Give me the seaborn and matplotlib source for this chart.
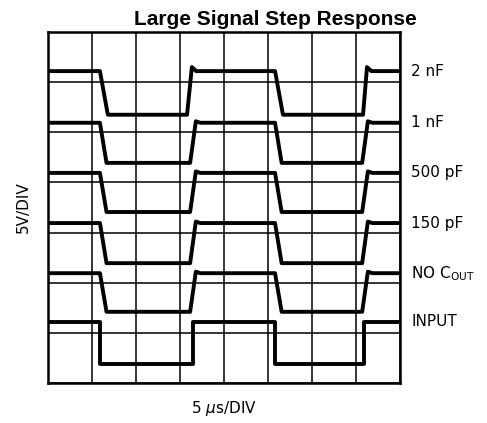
# =======================================================
# Large Signal Step Response (scope capture redraw)
# =======================================================

import numpy as np
import pandas as pd
import matplotlib
matplotlib.use("Agg")
import matplotlib.pyplot as plt
import seaborn as sns

# ---- Data (x in divisions, y in divisions) ----
trace_names = ["2 nF", "1 nF", "500 pF", "150 pF", "NO C$_\\mathregular{OUT}$", "INPUT"]

# high / low level of each trace
high_levels = [6.22, 5.19, 4.19, 3.19, 2.19, 1.22]
low_levels = [5.35, 4.39, 3.41, 2.39, 1.42, 0.38]

# edges: fall start, fall end, rise start, rise end (twice per trace)
fall1_start = [1.18, 1.18, 1.18, 1.18, 1.18, 1.18]
fall1_end = [1.36, 1.33, 1.33, 1.33, 1.33, 1.18]
rise1_start = [3.16, 3.23, 3.23, 3.23, 3.23, 3.30]
rise1_end = [3.27, 3.36, 3.36, 3.36, 3.36, 3.30]
fall2_start = [5.16, 5.16, 5.16, 5.16, 5.16, 5.16]
fall2_end = [5.34, 5.31, 5.31, 5.31, 5.31, 5.16]
rise2_start = [7.16, 7.14, 7.14, 7.14, 7.14, 7.18]
rise2_end = [7.25, 7.27, 7.27, 7.27, 7.27, 7.18]

# small overshoot after each rising edge
overshoot = [0.08, 0.03, 0.03, 0.03, 0.03, 0.0]

# =======================================================
# Build long-form table
# =======================================================
rows = []
for i, name in enumerate(trace_names):
    hi, lo, ov = high_levels[i], low_levels[i], overshoot[i]
    pts = [
        (0.0, hi),
        (fall1_start[i], hi),
        (fall1_end[i], lo),
        (rise1_start[i], lo),
        (rise1_end[i], hi + ov),
        (rise1_end[i] + 0.1, hi),
        (fall2_start[i], hi),
        (fall2_end[i], lo),
        (rise2_start[i], lo),
        (rise2_end[i], hi + ov),
        (rise2_end[i] + 0.1, hi),
        (8.0, hi),
    ]
    for k, (t, v) in enumerate(pts):
        rows.append({"trace": name, "order": k, "time": t, "level": v})
df = pd.DataFrame(rows)

# =======================================================
# Plot
# =======================================================
sns.set_style("white")
plt.rcParams["font.family"] = ["DejaVu Sans"]
plt.rcParams["text.color"] = "black"
plt.rcParams["axes.labelcolor"] = "black"

fig = plt.figure(figsize=(4.87, 4.23), dpi=100)
ax = fig.add_axes([48 / 487, 1 - 383 / 423, 352 / 487, 351 / 423])

for name in trace_names:
    sub = df[df["trace"] == name]
    sns.lineplot(data=sub, x="time", y="level", sort=False, estimator=None,
                 color="black", lw=2.8, ax=ax, legend=False)

ax.set_xlim(0, 8)
ax.set_ylim(0, 7)
ax.set_xticks(np.arange(0, 9))
ax.set_yticks(np.arange(0, 8))
ax.set_xticklabels([])
ax.set_yticklabels([])
ax.tick_params(length=0)
ax.grid(True, color="black", lw=1.1)
ax.set_axisbelow(True)
for sp in ax.spines.values():
    sp.set_visible(True)
    sp.set_color("black")
    sp.set_linewidth(1.8)

# trace labels on the right
for name, hi in zip(trace_names, high_levels):
    ax.text(8.25, hi, name, fontsize=11, va="center", ha="left",
            color="black", clip_on=False)

ax.set_xlabel("5 $\\mu$s/DIV", fontsize=11, labelpad=8)
ax.set_ylabel("5V/DIV", fontsize=11, labelpad=9)

fig.text(275 / 487, 1 - 25 / 423, "Large Signal Step Response",
         fontsize=15, fontweight="bold", ha="center", va="baseline",
         color="black", family="Liberation Sans")

fig.savefig("out.png", dpi=100)
